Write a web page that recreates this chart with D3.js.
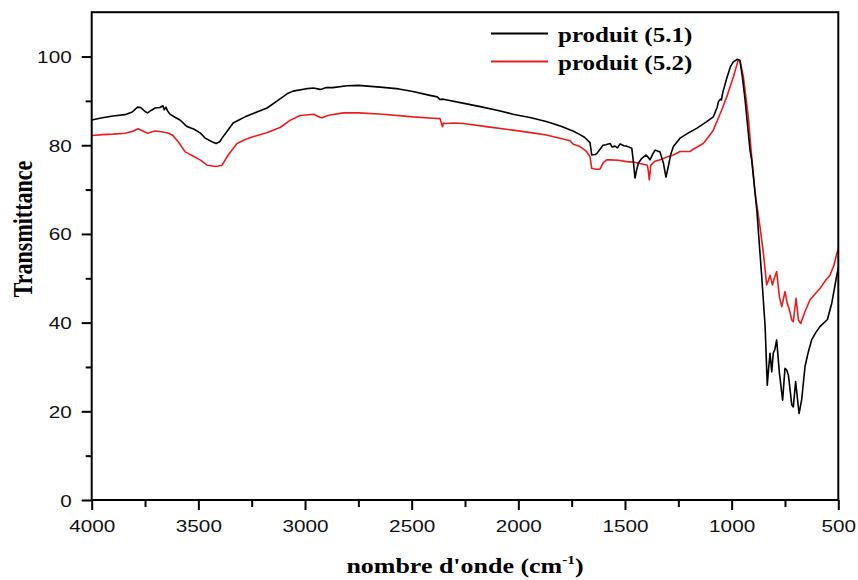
<!DOCTYPE html>
<html>
<head>
<meta charset="utf-8">
<script src="https://cdn.jsdelivr.net/npm/d3@7"></script>
<style>
  html, body { margin: 0; padding: 0; background: #fff; }
  svg { display: block; }
</style>
</head>
<body>
<svg id="chart" width="858" height="580"></svg>
<script>
// FTIR spectra: wavenumber (cm-1) and transmittance (%)
const wn51 = [4000,3950,3900,3844,3810,3785,3770,3750,3738,3720,3703,3680,3666,3660,3652,3645,3633,3610,3586,3553,3520,3492,3468,3436,3417,3400,3389,3360,3337,3310,3281,3240,3178,3130,3084,3056,3000,2960,2930,2920,2900,2870,2803,2750,2648,2560,2494,2420,2380,2367,2355,2334,2260,2179,2100,2025,1940,1865,1800,1744,1711,1690,1664,1656,1640,1631,1603,1590,1570,1560,1547,1535,1523,1505,1492,1468,1460,1453,1445,1437,1422,1401,1390,1383,1370,1359,1336,1320,1308,1297,1285,1273,1242,1195,1164,1120,1086,1068,1062,1052,1048,1042,1023,1005,992,973,961,950,937,914,906,882,859,843,833,826,820,812,805,797,789,776,761,750,742,734,718,711,700,684,672,656,640,625,605,586,551,531,507,500];
const t51 = [85.7,86.2,86.6,86.9,87.5,88.6,88.5,87.6,87.3,87.9,88.4,88.5,88.9,88.0,88.6,87.8,87.0,86.3,85.7,84.2,83.6,82.8,81.6,80.8,80.4,80.8,81.6,83.5,85.0,85.7,86.4,87.2,88.4,90.0,91.6,92.2,92.7,92.9,92.6,92.7,93.0,93.0,93.4,93.5,93.1,92.7,92.1,91.3,90.9,90.3,90.4,90.2,89.5,88.7,87.9,87.0,86.2,85.3,84.3,83.2,82.4,81.8,80.6,77.8,77.9,78.2,80.0,80.1,80.4,79.6,79.8,79.4,80.3,79.9,79.8,79.3,76.0,72.6,74.5,76.0,77.0,77.8,77.2,76.7,78.0,78.9,78.5,76.0,72.8,75.2,78.0,79.7,81.6,83.0,83.8,85.2,86.4,88.5,89.8,90.4,90.2,91.8,95.1,97.8,98.8,99.4,99.1,95.5,90.2,78.9,76.7,65.4,50.4,39.1,25.9,30.0,33.1,28.9,33.1,34.0,36.1,28.6,22.5,29.7,29.3,28.2,21.4,21.0,26.7,19.5,22.5,30.1,33.5,36.1,37.8,39.1,40.7,44.3,50.7,52.3];

const wn52 = [4000,3950,3900,3844,3810,3783,3760,3738,3720,3703,3680,3666,3640,3619,3590,3562,3530,3492,3459,3417,3389,3360,3319,3280,3244,3180,3117,3070,3023,2960,2930,2920,2900,2883,2820,2750,2634,2494,2400,2367,2362,2356,2350,2344,2300,2258,2150,2025,1950,1868,1800,1758,1742,1711,1680,1664,1656,1640,1617,1602,1586,1570,1530,1492,1460,1430,1395,1390,1386,1382,1379,1360,1336,1300,1273,1242,1195,1180,1133,1110,1086,1047,1023,992,969,961,945,922,906,890,867,851,836,828,820,809,800,789,776,765,750,739,730,718,711,698,687,676,656,633,610,586,560,539,520,507,500];
const t52 = [82.2,82.4,82.5,82.7,83.1,83.7,83.2,82.7,83.0,83.2,83.1,83.0,82.7,82.2,80.5,78.5,77.7,76.7,75.5,75.2,75.5,77.8,80.4,81.3,81.9,82.8,84.0,85.6,86.7,87.0,86.3,86.2,86.6,86.8,87.3,87.3,87.0,86.4,86.1,86.0,85.2,84.2,85.0,84.9,85.0,84.9,84.2,83.4,82.9,82.3,81.5,81.0,80.2,79.7,78.6,77.4,74.8,74.6,74.6,76.1,76.7,76.7,76.6,76.3,76.2,75.9,75.5,74.0,72.2,74.0,75.5,76.4,76.7,77.4,77.8,78.6,78.6,79.1,80.4,81.8,83.4,87.9,90.9,95.4,99.2,99.1,95.4,86.4,77.4,69.2,61.6,55.6,48.5,49.5,50.7,48.5,50.0,51.5,45.8,43.6,47.0,44.3,43.0,40.6,40.2,45.5,40.6,39.8,42.5,45.1,46.4,47.7,49.5,50.7,53.0,55.6,56.5];

const seriesNames = ["produit (5.1)", "produit (5.2)"];
const seriesColors = ["#000000", "#ec1c1c"];

const xMajor = [4000,3500,3000,2500,2000,1500,1000,500];
const xMinor = [3750,3250,2750,2250,1750,1250,750];
const yMajor = [0,20,40,60,80,100];
const yMinor = [10,30,50,70,90];

const xTitle = "nombre d'onde (cm";
const yTitle = "Transmittance";

const svg = d3.select("#chart");
const plotLeft = 91.7, plotRight = 838.3, plotTop = 12.2, plotBottom = 500;

const x = d3.scaleLinear().domain([4000, 500]).range([plotLeft, plotRight]);
const y = d3.scaleLinear().domain([0, 110]).range([plotBottom, plotTop]);

const tickFont = "'Liberation Sans', Arial, sans-serif";
const serif = "'Liberation Serif', 'Times New Roman', serif";

// spectra
const line = d3.line().x(d => x(d[0])).y(d => y(d[1]));
const data = [d3.zip(wn51, t51), d3.zip(wn52, t52)];
// red first so black sits on top where they overlap
[1, 0].forEach(i => {
  svg.append("path")
    .datum(data[i])
    .attr("fill", "none")
    .attr("stroke", seriesColors[i])
    .attr("stroke-width", 1.6)
    .attr("stroke-linejoin", "round")
    .attr("d", line);
});

// x axis
const xAxis = svg.append("g").attr("transform", `translate(0,${plotBottom})`);
xAxis.append("g").call(d3.axisBottom(x).tickValues(xMinor).tickSize(7).tickFormat(""))
  .call(g => g.select(".domain").remove())
  .call(g => g.selectAll("line").attr("stroke-width", 2));
const xg = xAxis.append("g").call(d3.axisBottom(x).tickValues(xMajor).tickSize(10).tickFormat(d3.format("d")))
  .call(g => g.select(".domain").remove());
xg.selectAll("line").attr("stroke-width", 2);
xg.selectAll("text")
  .attr("y", 0).attr("dy", 0)
  .attr("transform", "translate(0,32) scale(1.22,1)")
  .style("font-family", tickFont).style("font-size", "17px").attr("fill", "#111");

// y axis
const yAxis = svg.append("g").attr("transform", `translate(${plotLeft},0)`);
yAxis.append("g").call(d3.axisLeft(y).tickValues(yMinor).tickSize(6).tickFormat(""))
  .call(g => g.select(".domain").remove())
  .call(g => g.selectAll("line").attr("stroke-width", 2));
const yg = yAxis.append("g").call(d3.axisLeft(y).tickValues(yMajor).tickSize(10).tickFormat(d3.format("d")))
  .call(g => g.select(".domain").remove());
yg.selectAll("line").attr("stroke-width", 2);
yg.selectAll("text")
  .attr("x", 0).attr("dy", 0)
  .attr("transform", "translate(-20,6) scale(1.22,1)")
  .attr("text-anchor", "end")
  .style("font-family", tickFont).style("font-size", "17px").attr("fill", "#111");

// frame
svg.append("rect")
  .attr("x", plotLeft).attr("y", plotTop)
  .attr("width", plotRight - plotLeft).attr("height", plotBottom - plotTop)
  .attr("fill", "none").attr("stroke", "#000").attr("stroke-width", 2);

// axis titles
const xt = svg.append("text")
  .attr("transform", `translate(${(plotLeft + plotRight) / 2},573) scale(1.18,1)`)
  .attr("text-anchor", "middle")
  .style("font-family", serif).style("font-weight", "bold").style("font-size", "22px");
xt.append("tspan").text(xTitle);
xt.append("tspan").attr("dy", -9).style("font-size", "13px").text("-1");
xt.append("tspan").attr("dy", 9).text(")");

svg.append("text")
  .attr("transform", `translate(32,229) rotate(-90) scale(1,1.2)`)
  .attr("text-anchor", "middle")
  .style("font-family", serif).style("font-weight", "bold").style("font-size", "22px")
  .text(yTitle);

// legend
const legendY = [33.5, 61.5];
seriesNames.forEach((name, i) => {
  const g = svg.append("g").attr("transform", `translate(0,${legendY[i]})`);
  g.append("line").attr("x1", 491).attr("x2", 548).attr("y1", 0).attr("y2", 0)
    .attr("stroke", seriesColors[i]).attr("stroke-width", 1.8);
  g.append("text")
    .attr("transform", "translate(558,8.5) scale(1.25,1)")
    .style("font-family", serif).style("font-weight", "bold").style("font-size", "20px")
    .text(name);
});
</script>
</body>
</html>
